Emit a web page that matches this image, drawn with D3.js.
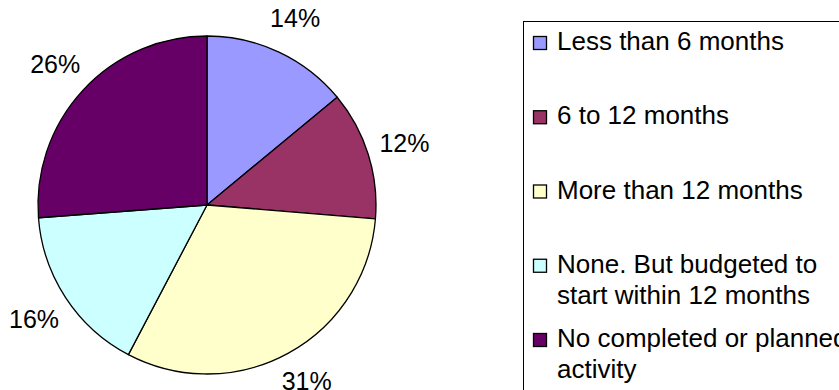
<!DOCTYPE html>
<html>
<head>
<meta charset="utf-8">
<script src="https://cdn.jsdelivr.net/npm/d3@7"></script>
<style>
  html, body { margin: 0; padding: 0; background: #fff; }
  svg { display: block; }
  text { font-family: "Liberation Sans", Arial, sans-serif; fill: #000; }
</style>
</head>
<body>
<svg id="chart" width="839" height="390"></svg>
<script>
const categories = [
  "Less than 6 months",
  "6 to 12 months",
  "More than 12 months",
  "None. But budgeted to start within 12 months",
  "No completed or planned activity"
];
const legendLines = [
  ["Less than 6 months"],
  ["6 to 12 months"],
  ["More than 12 months"],
  ["None. But budgeted to", "start within 12 months"],
  ["No completed or planned", "activity"]
];
const values = [14.0, 12.3, 31.4, 16.1, 26.2];
const colors = ["#9999FF", "#993366", "#FFFFCC", "#CCFFFF", "#660066"];

const svg = d3.select("#chart");
const W = 839, H = 390;
const cx = 207, cy = 205, r = 169, labelR = 207;
const labelSize = 25, halfDigit = 9.5;

const data = categories.map((c, i) => ({ name: c, value: values[i], color: colors[i], lines: legendLines[i] }));
const total = d3.sum(values);

const pie = d3.pie().sort(null).value(d => d.value).startAngle(0).endAngle(2 * Math.PI);
const arcs = pie(data);
const arc = d3.arc().innerRadius(0).outerRadius(r);
const labelArc = d3.arc().innerRadius(labelR).outerRadius(labelR);

const g = svg.append("g").attr("transform", `translate(${cx},${cy})`);
g.selectAll("path.slice")
  .data(arcs)
  .join("path")
  .attr("class", "slice")
  .attr("d", arc)
  .attr("fill", d => d.data.color)
  .attr("stroke", "#000")
  .attr("stroke-width", 1.3)
  .attr("stroke-linejoin", "round");

// labels kept inside the chart area (like the source application does)
function labelPos(d) {
  const [x, y] = labelArc.centroid(d);
  const yAbs = Math.max(halfDigit + 1, Math.min(H - halfDigit, cy + y));
  return [x, yAbs - cy];
}

g.selectAll("text.lbl")
  .data(arcs)
  .join("text")
  .attr("class", "lbl")
  .attr("transform", d => `translate(${labelPos(d)})`)
  .attr("text-anchor", "middle")
  .attr("dy", "0.36em")
  .style("font-size", labelSize + "px")
  .text(d => Math.round(d.data.value / total * 100) + "%");

// Legend
const lx = 523, ly = 21;
svg.append("rect")
  .attr("x", lx + 0.5).attr("y", ly + 0.5)
  .attr("width", W - lx + 10).attr("height", H - ly + 10)
  .attr("fill", "#fff").attr("stroke", "#000").attr("stroke-width", 1);

const rowY = d3.scaleLinear().domain([0, 4]).range([50, 347]);
const lineH = 31;
const leg = svg.selectAll("g.leg")
  .data(data)
  .join("g")
  .attr("class", "leg")
  .attr("transform", (d, i) => `translate(0,${rowY(i)})`);

leg.append("rect")
  .attr("x", 533.5).attr("y", -13.5)
  .attr("width", 13).attr("height", 13)
  .attr("fill", d => d.color)
  .attr("stroke", "#000").attr("stroke-width", 1.3);

leg.append("text")
  .attr("x", 557)
  .style("font-size", "26px")
  .selectAll("tspan")
  .data(d => d.lines)
  .join("tspan")
  .attr("x", 557)
  .attr("y", (d, j) => j * lineH)
  .text(d => d);
</script>
</body>
</html>
